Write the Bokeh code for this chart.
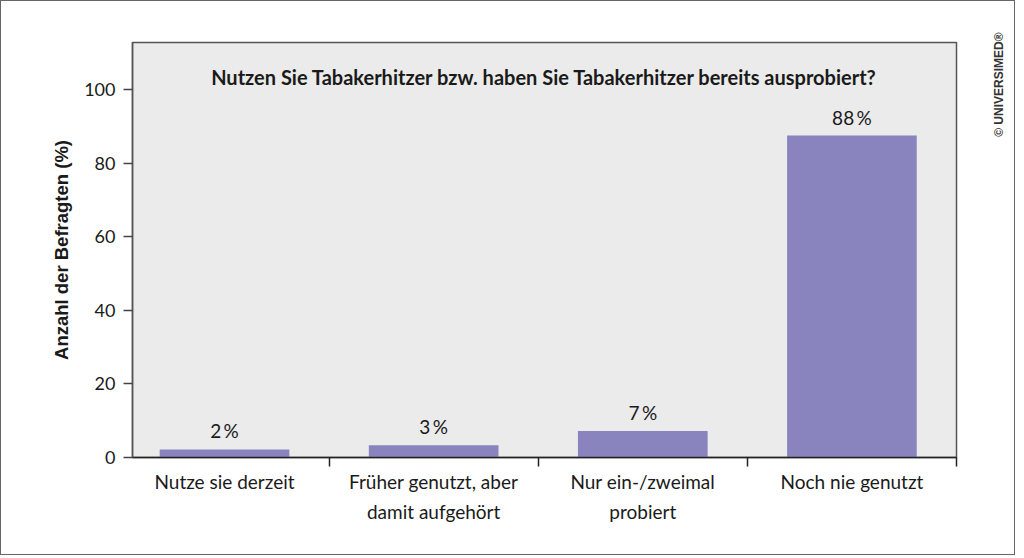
from bokeh.plotting import figure
from bokeh.models import Range1d, FixedTicker, LinearAxis, ColumnDataSource, Label
from bokeh.core.properties import value
from bokeh.embed import file_html
from bokeh.resources import INLINE
import math

categories = ["Nutze sie derzeit", "Früher genutzt, aber\ndamit aufgehört",
              "Nur ein-/zweimal\nprobiert", "Noch nie genutzt"]
values = [2.2, 3.3, 7.2, 87.5]
value_labels = ["2\u2009%", "3\u2009%", "7\u2009%", "88\u2009%"]
y_ticks = [0, 20, 40, 60, 80, 100]
title_text = "Nutzen Sie Tabakerhitzer bzw. haben Sie Tabakerhitzer bereits ausprobiert?"
y_label = "Anzahl der Befragten (%)"
copyright_text = "© UNIVERSIMED®"

FONT = "Lato"
TXT = "#1a1a1a"
BAR = "#8a84be"

xs = [i + 0.5 for i in range(len(categories))]
src = ColumnDataSource(dict(x=xs, top=values, lab=value_labels))

p = figure(width=1015, height=555, output_backend="svg", toolbar_location=None,
           x_range=Range1d(0.06, len(categories)), y_range=Range1d(0, 112.8),
           min_border_left=131, min_border_right=57, min_border_top=41, min_border_bottom=99,
           background_fill_color="#ebebeb", border_fill_color="white",
           outline_line_color="#555555", outline_line_width=1.5,
           styles={"border": "1px solid #666666"})
p.grid.visible = False

p.vbar(x="x", top="top", width=0.62, bottom=0, source=src, fill_color=BAR, line_color=None)
p.text(x="x", y="top", text="lab", source=src, text_align="center", text_baseline="bottom",
       y_offset=-7, text_font=value(FONT), text_font_size="19px", text_color=TXT)

# x axis
xa = p.xaxis[0]
xa.ticker = FixedTicker(ticks=xs, minor_ticks=list(range(1, len(categories) + 1)))
xa.major_label_overrides = {x: c for x, c in zip(xs, categories)}
xa.major_tick_line_color = None
xa.minor_tick_line_color = "#222222"
xa.minor_tick_line_width = 1.5
xa.minor_tick_in = 0
xa.minor_tick_out = 9
xa.axis_line_color = "#222222"
xa.axis_line_width = 1.5
xa.major_label_text_font = FONT
xa.major_label_text_font_size = "19px"
xa.major_label_text_color = TXT
xa.major_label_text_line_height = 1.33
xa.major_label_standoff = 3

# y axis
ya = p.yaxis[0]
ya.ticker = FixedTicker(ticks=y_ticks)
ya.minor_tick_line_color = None
ya.major_tick_in = 0
ya.major_tick_out = 9
ya.major_tick_line_color = "#444444"
ya.major_tick_line_width = 1.5
ya.axis_line_color = "#555555"
ya.axis_line_width = 1.5
ya.major_label_text_font = FONT
ya.major_label_text_font_size = "18px"
ya.major_label_text_color = TXT
ya.major_label_standoff = 8
ya.axis_label = y_label
ya.axis_label_text_font = "Liberation Sans"
ya.axis_label_text_font_style = "bold"
ya.axis_label_text_font_size = "18.5px"
ya.axis_label_text_color = TXT
ya.axis_label_standoff = 9

# copyright note on the right side, drawn as a rotated tick label of a bare right axis
copyright_pos = 104.0
ra = LinearAxis(ticker=FixedTicker(ticks=[copyright_pos]),
                major_label_overrides={copyright_pos: copyright_text},
                major_label_orientation=math.pi / 2,
                axis_line_color=None, major_tick_line_color=None, minor_tick_line_color=None,
                major_label_text_font="Liberation Sans", major_label_text_font_style="bold",
                major_label_text_font_size="12px", major_label_text_color="#333333",
                major_label_standoff=37)
p.add_layout(ra, "right")

p.add_layout(Label(x=len(categories) / 2 + 0.03, y=103.5, text=title_text, text_align="center",
                   text_baseline="middle", text_font=FONT, text_font_style="bold",
                   text_font_size="20px", text_color=TXT))

open("out.html", "w").write(file_html(p, INLINE))
